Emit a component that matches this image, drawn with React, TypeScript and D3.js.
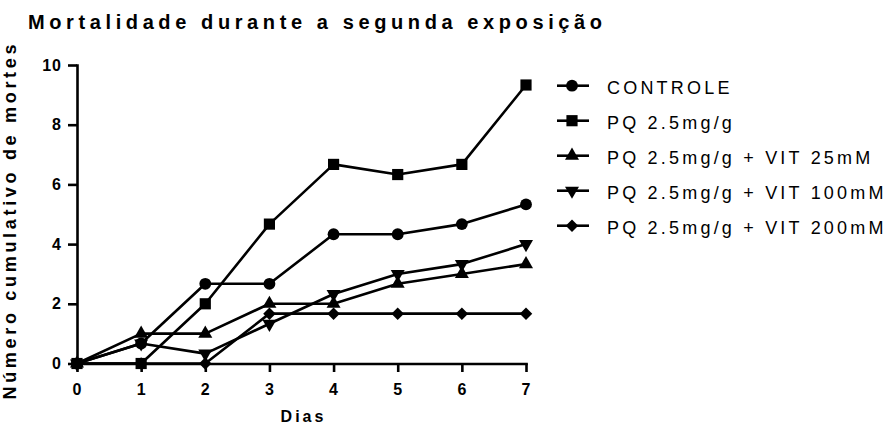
import React, { useEffect, useRef } from 'react';
import * as d3 from 'd3';

const days = [0, 1, 2, 3, 4, 5, 6, 7];
const controle = [0, 0.67, 2.67, 2.67, 4.33, 4.33, 4.67, 5.33];
const pq = [0, 0, 2, 4.67, 6.67, 6.33, 6.67, 9.33];
const vit25 = [0, 1, 1, 2, 2, 2.67, 3, 3.33];
const vit100 = [0, 0.67, 0.33, 1.33, 2.33, 3, 3.33, 4];
const vit200 = [0, 0, 0, 1.67, 1.67, 1.67, 1.67, 1.67];
const seriesNames = [
  'CONTROLE',
  'PQ 2.5mg/g',
  'PQ 2.5mg/g + VIT 25mM',
  'PQ 2.5mg/g + VIT 100mM',
  'PQ 2.5mg/g + VIT 200mM',
];
const yTicks = [0, 2, 4, 6, 8, 10];

const FONT = '"Liberation Sans", Arial, sans-serif';

const App = () => {
  const ref = useRef<SVGSVGElement>(null);

  useEffect(() => {
    const width = 888, height = 430;
    const svg = d3.select(ref.current);
    svg.selectAll('*').remove();
    svg.attr('width', width).attr('height', height);

    const x = d3.scaleLinear().domain([0, 7]).range([77, 526]);
    const y = d3.scaleLinear().domain([0, 10]).range([363.5, 65]);

    // markers: circle, square, triangle up, triangle down, diamond
    const markers = [
      { type: d3.symbolCircle, size: 110, rot: 0 },
      { type: d3.symbolSquare, size: 125, rot: 0 },
      { type: d3.symbolTriangle, size: 85, rot: 0 },
      { type: d3.symbolTriangle, size: 85, rot: 180 },
      { type: d3.symbolSquare, size: 78, rot: 45 },
    ];
    const allSeries = [controle, pq, vit25, vit100, vit200];

    // title
    svg.append('text')
      .attr('x', 28).attr('y', 29)
      .attr('textLength', 574).attr('lengthAdjust', 'spacing')
      .style('font-family', FONT).style('font-weight', 'bold').style('font-size', '20px')
      .text('Mortalidade durante a segunda exposição');

    // axes
    const yAxis = svg.append('g')
      .attr('transform', `translate(${x(0)},0)`)
      .call(d3.axisLeft(y).tickValues(yTicks).tickFormat(d3.format('d')).tickSize(9).tickSizeOuter(0).tickPadding(6));
    const xAxis = svg.append('g')
      .attr('transform', `translate(0,${y(0)})`)
      .call(d3.axisBottom(x).tickValues(days).tickFormat(d3.format('d')).tickSize(8.5).tickSizeOuter(0).tickPadding(12));

    [yAxis, xAxis].forEach(g => {
      g.selectAll('path, line').attr('stroke', '#000').attr('stroke-width', 2.6);
      g.select('.domain').attr('stroke-linecap', 'square');
      g.selectAll('text')
        .attr('fill', '#000')
        .style('font-family', FONT).style('font-weight', 'bold').style('font-size', '16px')
        .style('letter-spacing', '1px');
    });

    // axis titles
    svg.append('text')
      .attr('transform', 'translate(15.5,222) rotate(-90)')
      .attr('text-anchor', 'middle')
      .attr('textLength', 355).attr('lengthAdjust', 'spacing')
      .style('font-family', FONT).style('font-weight', 'bold').style('font-size', '18px')
      .text('Número cumulativo de mortes');

    svg.append('text')
      .attr('x', (x(0) + x(7)) / 2 + 2).attr('y', 422)
      .attr('text-anchor', 'middle')
      .style('font-family', FONT).style('font-weight', 'bold').style('font-size', '16px')
      .style('letter-spacing', '3px')
      .text('Dias');

    const line = d3.line<number>().x((_, i) => x(days[i])).y(d => y(d));

    allSeries.forEach(s => {
      svg.append('path')
        .attr('d', line(s))
        .attr('fill', 'none')
        .attr('stroke', '#000')
        .attr('stroke-width', 2.6)
        .attr('stroke-linejoin', 'round');
    });

    allSeries.forEach((s, k) => {
      const m = markers[k];
      const sym = d3.symbol().type(m.type).size(m.size);
      svg.append('g').selectAll('path')
        .data(s)
        .enter()
        .append('path')
        .attr('d', sym() as string)
        .attr('transform', (d, i) => `translate(${x(days[i])},${y(d)}) rotate(${m.rot})`)
        .attr('fill', '#000');
    });

    // legend
    const legend = svg.append('g');
    seriesNames.forEach((name, k) => {
      const cy = 85.7 + k * 35;
      const m = markers[k];
      legend.append('line')
        .attr('x1', 557).attr('x2', 589).attr('y1', cy).attr('y2', cy)
        .attr('stroke', '#000').attr('stroke-width', 2.6);
      legend.append('path')
        .attr('d', d3.symbol().type(m.type).size(m.size)() as string)
        .attr('transform', `translate(572,${cy}) rotate(${m.rot})`)
        .attr('fill', '#000');
      legend.append('text')
        .attr('x', 607).attr('y', cy + 8.5)
        .style('font-family', FONT).style('font-size', '18px')
        .style('letter-spacing', '3.2px')
        .text(name);
    });
  }, []);

  return <svg ref={ref} style={{ position: 'absolute', left: 0, top: 0, display: 'block' }}></svg>;
};

export default App;
